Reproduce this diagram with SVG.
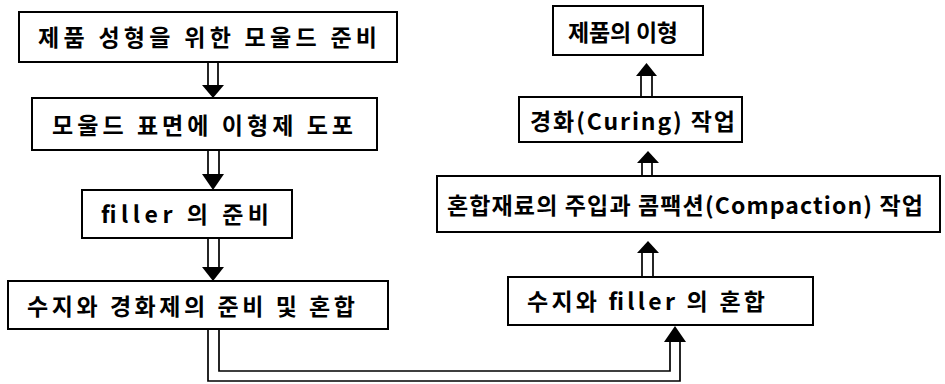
<svg xmlns="http://www.w3.org/2000/svg" width="945" height="384" viewBox="0 0 945 384">
<style>
.box{fill:#fff;stroke:#000;stroke-width:2}
.t{font-family:"Noto Sans CJK KR","Liberation Sans",sans-serif;font-weight:bold;font-size:23px;fill:#000;text-anchor:start}
.ln{fill:none;stroke:#000;stroke-width:1.7}
.hd{fill:#000;stroke:none}
</style>
<rect width="945" height="384" fill="#fff"/>
<g id="connectors">
<path class="ln" d="M208,62 V86 M218,62 V86"/>
<polygon class="hd" points="202,85 224,85 213,98"/>
<path class="ln" d="M208,150 V175 M219,150 V175"/>
<polygon class="hd" points="202,174 224,174 213,190"/>
<path class="ln" d="M208,238 V268 M219,238 V268"/>
<polygon class="hd" points="202,267 224,267 213,281"/>
<path class="ln" d="M208,329 V381 H680 V341"/>
<path class="ln" d="M219,329 V371 H670 V341"/>
<polygon class="hd" points="664,342 686,342 675,326"/>
<path class="ln" d="M642,277 V252 M653,277 V252"/>
<polygon class="hd" points="637,253 659,253 648,241"/>
<path class="ln" d="M642,176 V162 M652,176 V162"/>
<polygon class="hd" points="637,163 659,163 648,151"/>
<path class="ln" d="M641,97 V75 M652,97 V75"/>
<polygon class="hd" points="636,76 657,76 646.5,63"/>
</g>
<g id="n1"><rect class="box" x="19" y="12" width="378" height="50"/><text class="t" x="38" y="46" textLength="339" lengthAdjust="spacing">제품 성형을 위한 모울드 준비</text></g>
<g id="n2"><rect class="box" x="32" y="98" width="345" height="52"/><text class="t" x="52" y="134" textLength="301" lengthAdjust="spacing">모울드 표면에 이형제 도포</text></g>
<g id="n3"><rect class="box" x="82" y="190" width="210" height="48"/><text class="t" x="101" y="223" textLength="168" lengthAdjust="spacing">filler 의 준비</text></g>
<g id="n4"><rect class="box" x="8" y="281" width="380" height="48"/><text class="t" x="27" y="315" textLength="328" lengthAdjust="spacing">수지와 경화제의 준비 및 혼합</text></g>
<g id="n5"><rect class="box" x="553" y="6" width="150" height="49"/><text class="t" x="568" y="41" textLength="110" lengthAdjust="spacing">제품의 이형</text></g>
<g id="n6"><rect class="box" x="519" y="97" width="223" height="45"/><text class="t" x="530" y="130" textLength="205" lengthAdjust="spacing">경화(Curing) 작업</text></g>
<g id="n7"><rect class="box" x="437" y="176" width="503" height="56"/><text class="t" x="447" y="214" textLength="476" lengthAdjust="spacing">혼합재료의 주입과 콤팩션(Compaction) 작업</text></g>
<g id="n8"><rect class="box" x="508" y="277" width="305" height="48"/><text class="t" x="527" y="310" textLength="238" lengthAdjust="spacing">수지와 filler 의 혼합</text></g>
</svg>
